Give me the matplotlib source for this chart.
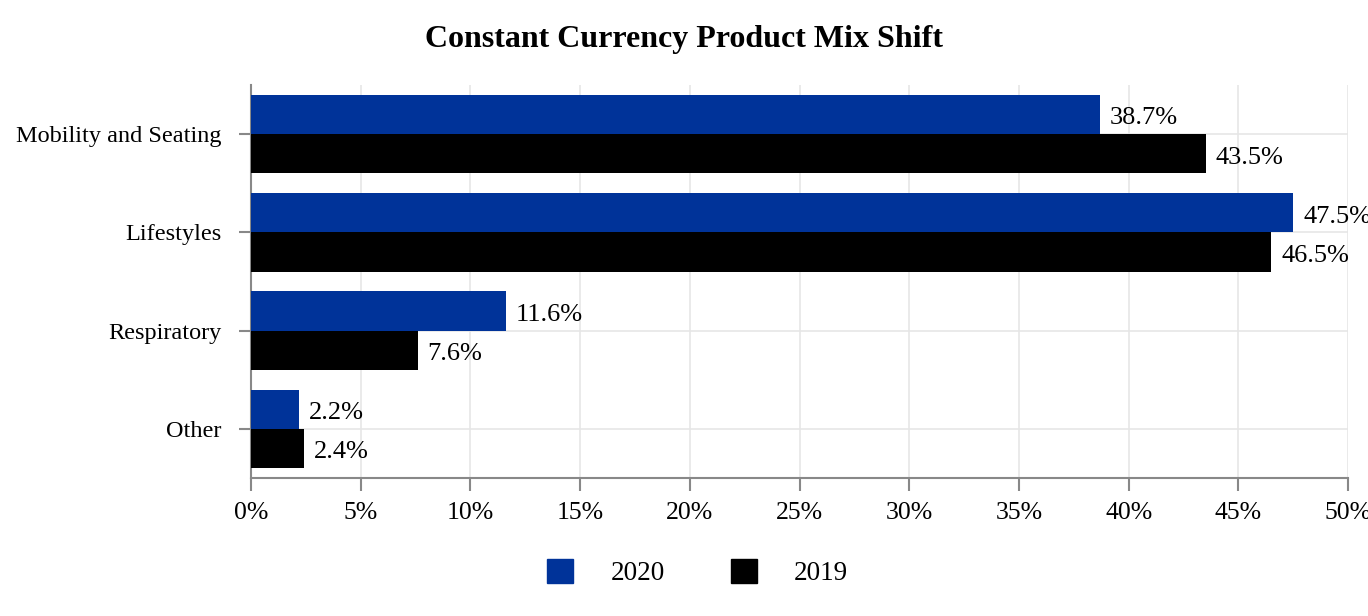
import numpy as np
from matplotlib import pyplot as plt
from matplotlib.patches import Patch

plt.rcParams['font.family'] = ['Liberation Serif', 'DejaVu Serif']

# product mix by category, share of sales in percent
categories = ["Mobility and Seating", "Lifestyles", "Respiratory", "Other"]
share_2020 = [38.7, 47.5, 11.6, 2.2]
share_2019 = [43.5, 46.5, 7.6, 2.4]
x_ticks = [0, 5, 10, 15, 20, 25, 30, 35, 40, 45, 50]

blue = "#003399"
black = "#000000"

fig = plt.figure(figsize=(13.68, 6.16), dpi=100)
ax = fig.add_axes([0.1835, 0.224, 0.802, 0.638])

pos = np.arange(len(categories))
h = 0.4
ax.barh(pos - h / 2, share_2020, height=h, color=blue, zorder=3)
ax.barh(pos + h / 2, share_2019, height=h, color=black, zorder=3)

for p, v in zip(pos, share_2020):
    ax.text(v + 0.45, p - h / 2 + 0.04, "%.1f%%" % v, va="center", ha="left", fontsize=19)
for p, v in zip(pos, share_2019):
    ax.text(v + 0.45, p + h / 2 + 0.04, "%.1f%%" % v, va="center", ha="left", fontsize=19)

ax.set_ylim(len(categories) - 0.5, -0.5)
ax.set_xlim(0, 50)
ax.set_yticks(pos)
ax.set_yticklabels(categories, fontsize=17.5)
ax.set_xticks(x_ticks)
ax.set_xticklabels(["%d%%" % t for t in x_ticks], fontsize=18.5)

ax.grid(True, color="#e6e6e6", linewidth=1.2, zorder=0)
ax.set_axisbelow(True)
for s in ["top", "right"]:
    ax.spines[s].set_visible(False)
for s in ["left", "bottom"]:
    ax.spines[s].set_color("#888888")
    ax.spines[s].set_linewidth(1.5)
ax.tick_params(axis="both", color="#888888", width=1.5, length=9, pad=8)
ax.tick_params(axis="y", pad=12)

fig.suptitle("Constant Currency Product Mix Shift", fontsize=23, fontweight="bold", y=0.96)

handles = [Patch(color=blue), Patch(color=black)]
fig.legend(handles, ["2020", "2019"], loc="center", bbox_to_anchor=(0.51, 0.07), ncol=2,
           frameon=False, fontsize=19.5, handlelength=0.96, handleheight=0.96,
           handletextpad=1.37, columnspacing=2.44)

fig.savefig("out.png", dpi=100)
